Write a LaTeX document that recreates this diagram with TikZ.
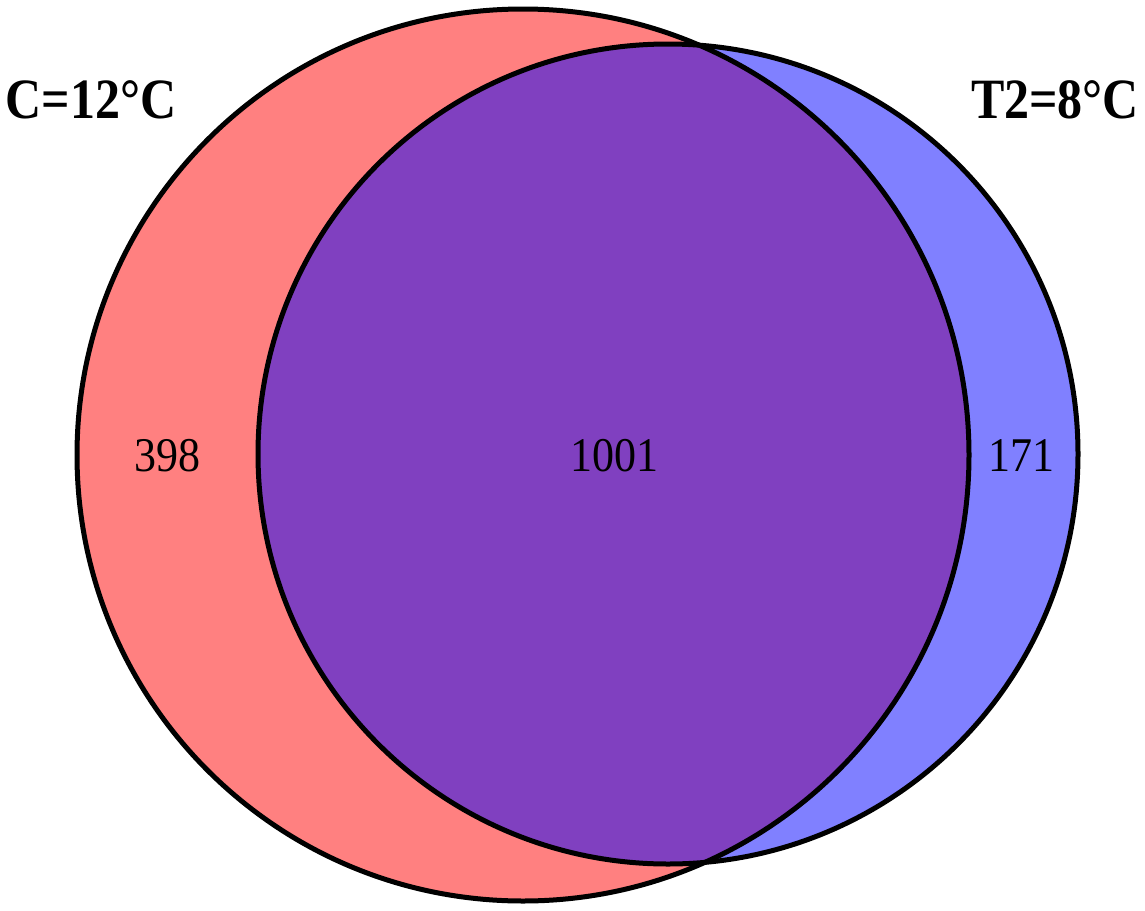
\documentclass[tikz,border=0pt]{standalone}
\usepackage{fontspec}
\setmainfont{Liberation Serif}
\definecolor{setA}{RGB}{255,128,128}
\definecolor{setB}{RGB}{128,128,255}
\definecolor{setAB}{RGB}{128,64,192}
\begin{document}
\begin{tikzpicture}[x=1pt,y=-1pt,
  outline/.style={draw=black,line width=5pt},
  title/.style={font=\fontsize{50}{60}\selectfont\bfseries,inner sep=0pt,yscale=1.14,transform shape},
  count/.style={font=\fontsize{44}{52}\selectfont,inner sep=0pt,yscale=1.1,transform shape}]
\useasboundingbox (0,0) rectangle (1145,910);
\coordinate (ca) at (523,455);
\coordinate (cb) at (668,454);
\fill[setA] (ca) circle[radius=446];
\fill[setB] (cb) circle[radius=410];
\begin{scope}
  \clip (ca) circle[radius=446];
  \fill[setAB] (cb) circle[radius=410];
\end{scope}
\draw[outline] (ca) circle[radius=446];
\draw[outline] (cb) circle[radius=410];
\node[title] (la) at (91,100) {C=12°C};
\node[title] (lb) at (1055,100) {T2=8°C};
\node[count] (na) at (167,456) {398};
\node[count] (nab) at (614,456) {1001};
\node[count] (nb) at (1021,456) {171};
\end{tikzpicture}
\end{document}
